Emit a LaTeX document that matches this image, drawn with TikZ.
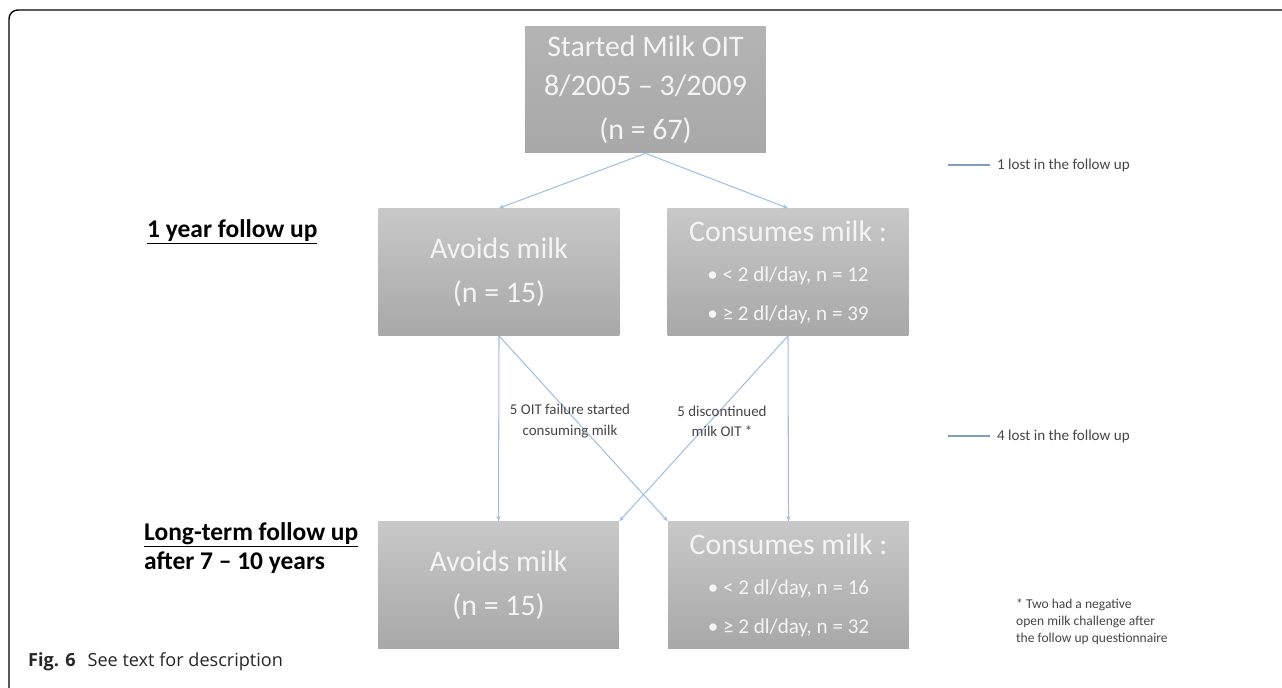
\documentclass[tikz,border=0pt]{standalone}
\usepackage{fontspec}
\setmainfont{Carlito}
\newfontfamily\pieFont{Open Sans}
\usetikzlibrary{arrows.meta}
\definecolor{grisClaro}{HTML}{C8C8C8}
\definecolor{grisOscuro}{HTML}{A8A8A8}
\definecolor{azulFlecha}{HTML}{A2BFDF}
\definecolor{azulLinea}{HTML}{7F9DC0}
\definecolor{grisTexto}{HTML}{454545}
\definecolor{blancoT}{HTML}{F4F4F4}

\tikzset{
  caja/.style={top color=grisClaro,bottom color=grisOscuro,text=blancoT,
    align=center,inner sep=0pt,minimum width=4.82cm,minimum height=2.54cm,
    font=\fontsize{17}{22}\selectfont},
  flecha/.style={azulFlecha,line width=0.6pt,-{Stealth[length=3pt,width=2.5pt]}},
  nota/.style={text=grisTexto,font=\fontsize{8.5}{11.5}\selectfont,align=center},
  etapa/.style={font=\bfseries\fontsize{14.5}{17}\selectfont,align=left,anchor=west},
}

\begin{document}
\begin{tikzpicture}[x=0.02cm,y=-0.02cm,>=Stealth]
  \useasboundingbox (0,0) rectangle (1282,687);
  \draw[line width=0.8pt,rounded corners=5pt] (1282,10) -- (9,10) -- (9,690);

  % boxes
  \node[caja,top color=grisClaro!90!black] (inicio) at (645.5,89.5)
    {Started Milk OIT\\8/2005 -- 3/2009\\[3pt](n = 67)};
  \node[caja] (evita1) at (499,272)
    {Avoids milk\\[3pt](n = 15)};
  \node[caja] (consume1) at (788,272)
    {Consumes milk :\\[1pt]\fontsize{12}{16.5}\selectfont • < 2 dl/day, n = 12\\
     \fontsize{12}{16.5}\selectfont • ≥ 2 dl/day, n = 39};
  \node[caja] (evita2) at (498.5,585)
    {Avoids milk\\[3pt](n = 15)};
  \node[caja] (consume2) at (788.5,585)
    {Consumes milk :\\[1pt]\fontsize{12}{16.5}\selectfont • < 2 dl/day, n = 16\\
     \fontsize{12}{16.5}\selectfont • ≥ 2 dl/day, n = 32};

  % stage labels
  \node[etapa] (anio) at (141,232) {\underline{1 year follow up}};
  \node[etapa] (largo) at (138,548) {\underline{Long-term follow up}\\after 7 -- 10 years};

  % connectors
  \draw[flecha] (inicio.south) -- (evita1.north);
  \draw[flecha] (inicio.south) -- (consume1.north);
  \draw[flecha] (evita1.south) -- (evita2.north);
  \draw[flecha] (evita1.south) -- (consume2.north west);
  \draw[flecha] (consume1.south) -- (evita2.north east);
  \draw[flecha] (consume1.south) -- (consume2.north);

  \node[nota] (fallo) at (570,421) {5 OIT failure started\\consuming milk};
  \node[nota] (deja) at (722,421) {5 discontinued\\milk OIT *};

  % legend
  \coordinate (l1a) at (948,165);
  \coordinate (l1b) at (990,165);
  \draw[azulLinea,line width=1.4pt] (l1a) -- (l1b)
    node[nota,anchor=west,font=\fontsize{8.6}{10}\selectfont] (perdido1) {1 lost in the follow up};
  \coordinate (l2a) at (948,436);
  \coordinate (l2b) at (990,436);
  \draw[azulLinea,line width=1.4pt] (l2a) -- (l2b)
    node[nota,anchor=west,font=\fontsize{8.6}{10}\selectfont] (perdido4) {4 lost in the follow up};

  \node[nota,anchor=north west,align=left,font=\fontsize{7.7}{9.6}\selectfont] (asterisco) at (1010,593)
    {* Two had a negative\\open milk challenge after\\the follow up questionnaire};

  % caption
  \node[anchor=west,font=\pieFont\fontsize{10.3}{12}\selectfont,text=black!85] (pie) at (22,662)
    {\textbf{Fig. 6}\hspace{0.4em} See text for description};
\end{tikzpicture}
\end{document}
